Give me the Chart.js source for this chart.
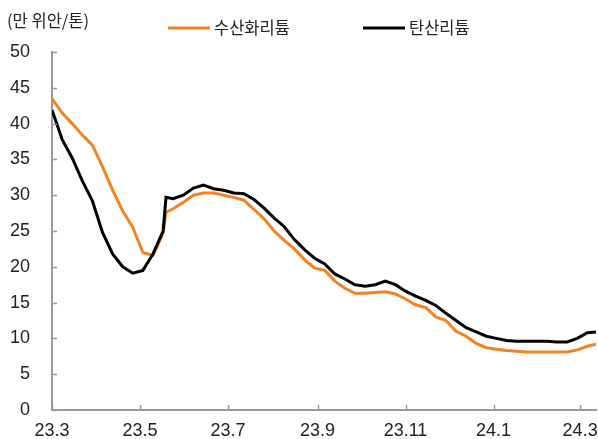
<!DOCTYPE html>
<html>
<head>
<meta charset="utf-8">
<script src="https://cdn.jsdelivr.net/npm/chart.js@4"></script>
<style>
  html, body { margin: 0; padding: 0; background: #fff; overflow: hidden; }
  canvas { display: block; }
</style>
</head>
<body>
<canvas id="myChart" width="598" height="439"></canvas>
<script>
// days since 2023-03-01 (roughly weekly samples)
const days = [0, 7, 14, 21, 28, 35, 42, 49, 56, 63, 70, 77, 79, 84, 91, 98, 105, 112, 119, 126,
  133, 140, 147, 154, 161, 168, 175, 182, 189, 196, 203, 210, 217, 224, 231, 238, 245, 252,
  259, 266, 273, 280, 287, 294, 301, 308, 315, 322, 329, 336, 343, 350, 357, 364, 371, 377];

// 수산화리튬 (lithium hydroxide), 만 위안/톤
const hydroxide = [43.5, 41.5, 40.0, 38.4, 37.0, 34.0, 30.7, 27.8, 25.5, 22.0, 21.6, 24.7, 27.6, 28.1, 29.0, 30.0, 30.3, 30.3, 30.0, 29.7,
  29.3, 28.0, 26.7, 25.0, 23.7, 22.5, 21.0, 19.8, 19.5, 18.0, 17.0, 16.3, 16.3, 16.4, 16.5, 16.2, 15.5, 14.7,
  14.3, 13.0, 12.5, 11.0, 10.3, 9.3, 8.7, 8.5, 8.3, 8.2, 8.1, 8.1, 8.1, 8.1, 8.1, 8.4, 8.9, 9.2];

// 탄산리튬 (lithium carbonate), 만 위안/톤
const carbonate = [41.9, 37.8, 35.2, 32.0, 29.2, 24.8, 21.8, 20.0, 19.1, 19.5, 21.8, 25.0, 29.7, 29.5, 30.0, 31.0, 31.4, 30.9, 30.7, 30.3,
  30.2, 29.4, 28.2, 26.8, 25.6, 23.8, 22.4, 21.2, 20.4, 19.0, 18.3, 17.5, 17.3, 17.5, 18.0, 17.5, 16.6, 15.9,
  15.3, 14.6, 13.5, 12.5, 11.5, 10.9, 10.3, 10.0, 9.7, 9.6, 9.6, 9.6, 9.6, 9.5, 9.5, 10.0, 10.8, 10.9];

const tickDays = [0, 61, 122, 184, 245, 306, 366];
const tickLabels = ['23.3', '23.5', '23.7', '23.9', '23.11', '24.1', '24.3'];
const seriesNames = ['수산화리튬', '탄산리튬'];
const unitLabel = '(만 위안/톤)';

const ORANGE = '#f58220';
const BLACK = '#000000';
const AXIS = '#9a9a9a';
const TEXT = '#222';
const numFont = { family: '"Liberation Sans", Arial, sans-serif', size: 18 };
const korFont = '16.5px "Noto Sans CJK KR", sans-serif';

// short inward tick marks, unit label and a hand-placed legend
const extras = {
  id: 'extras',
  afterDraw(chart) {
    const { ctx, chartArea: a, scales: { x, y } } = chart;
    ctx.save();
    ctx.strokeStyle = AXIS;
    ctx.lineWidth = 1.5;
    y.ticks.forEach(t => {
      const py = Math.round(y.getPixelForValue(t.value)) + 0.5;
      ctx.beginPath(); ctx.moveTo(a.left, py); ctx.lineTo(a.left + 5, py); ctx.stroke();
    });
    x.ticks.forEach(t => {
      const px = Math.round(x.getPixelForValue(t.value)) + 0.5;
      ctx.beginPath(); ctx.moveTo(px, a.bottom); ctx.lineTo(px, a.bottom - 5); ctx.stroke();
    });

    ctx.fillStyle = TEXT;
    ctx.font = korFont;
    ctx.textBaseline = 'middle';
    ctx.textAlign = 'left';
    ctx.fillText(unitLabel, 7, 21);

    const items = [
      { name: seriesNames[0], color: ORANGE, x: 168 },
      { name: seriesNames[1], color: BLACK, x: 363 }
    ];
    items.forEach(it => {
      ctx.strokeStyle = it.color;
      ctx.lineWidth = 3;
      ctx.beginPath(); ctx.moveTo(it.x, 28); ctx.lineTo(it.x + 42, 28); ctx.stroke();
      ctx.fillText(it.name, it.x + 46, 28);
    });
    ctx.restore();
  }
};

const ctx = document.getElementById('myChart');

new Chart(ctx, {
  type: 'line',
  data: {
    labels: days,
    datasets: [
      {
        label: seriesNames[0],
        data: days.map((d, i) => ({ x: d, y: hydroxide[i] })),
        borderColor: ORANGE,
        backgroundColor: ORANGE,
        borderWidth: 3,
        pointRadius: 0,
        order: 1
      },
      {
        label: seriesNames[1],
        data: days.map((d, i) => ({ x: d, y: carbonate[i] })),
        borderColor: BLACK,
        backgroundColor: BLACK,
        borderWidth: 3,
        pointRadius: 0,
        order: 0
      }
    ]
  },
  options: {
    responsive: false,
    animation: false,
    layout: { autoPadding: false, padding: { left: 10, right: 2, top: 52, bottom: 0 } },
    plugins: {
      legend: { display: false },
      tooltip: { enabled: false }
    },
    scales: {
      x: {
        type: 'linear',
        min: 0,
        max: 377,
        afterBuildTicks: axis => { axis.ticks = tickDays.map(v => ({ value: v })); },
        afterFit: axis => { axis.height = 29; axis.paddingLeft = 0; axis.paddingRight = 0; },
        ticks: {
          autoSkip: false,
          maxRotation: 0,
          padding: 10,
          color: TEXT,
          font: numFont,
          callback: (v, i) => tickLabels[i]
        },
        grid: { display: false, drawTicks: false },
        border: { display: true, color: AXIS, width: 2 }
      },
      y: {
        min: 0,
        max: 50,
        afterFit: axis => { axis.width = 42; axis.paddingTop = 0; axis.paddingBottom = 0; },
        ticks: { stepSize: 5, padding: 22, color: TEXT, font: numFont },
        grid: { display: false, drawTicks: false },
        border: { display: true, color: AXIS, width: 2 }
      }
    }
  },
  plugins: [extras]
});
</script>
</body>
</html>
